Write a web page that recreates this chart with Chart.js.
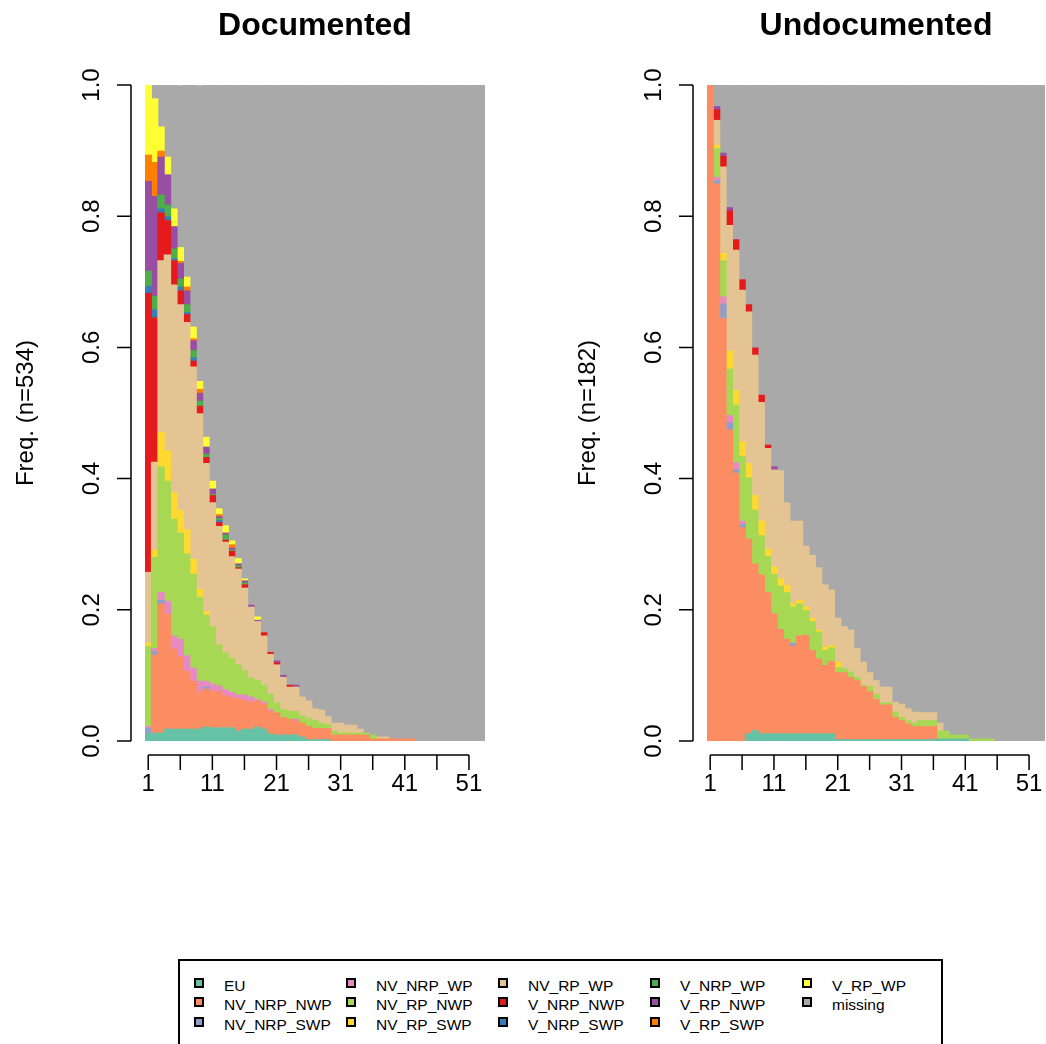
<!DOCTYPE html>
<html>
<head>
<meta charset="utf-8">
<script src="https://cdn.jsdelivr.net/npm/chart.js@4.4.1/dist/chart.umd.min.js"></script>
<style>
  html, body { margin: 0; padding: 0; background: #fff; overflow: hidden; }
  body { width: 1046px; height: 1044px; position: relative; font-family: "Liberation Sans", Arial, sans-serif; }
  canvas { position: absolute; top: 0; }
  #doc-chart { left: 0; }
  #und-chart { left: 523px; }
  #legend {
    position: absolute; left: 178px; top: 959px; width: 765px; height: 120px;
    border: 2px solid #000; box-sizing: border-box; padding: 15px 0 0 14px;
    display: grid; grid-template-columns: repeat(5, 152px); grid-template-rows: repeat(3, 19.5px);
    grid-auto-flow: column;
  }
  .item { display: flex; align-items: center; font-size: 15.5px; color: #000; white-space: nowrap; }
  .swatch { width: 10px; height: 10px; border: 2px solid #000; box-sizing: border-box; margin-right: 20px;
    position: relative; top: -3px; }
</style>
</head>
<body>
<canvas id="doc-chart" width="523" height="850"></canvas>
<canvas id="und-chart" width="523" height="850"></canvas>
<div id="legend"></div>
<script>
const states = ['EU', 'NV_NRP_NWP', 'NV_NRP_SWP', 'NV_NRP_WP', 'NV_RP_NWP', 'NV_RP_SWP', 'NV_RP_WP',
  'V_NRP_NWP', 'V_NRP_SWP', 'V_NRP_WP', 'V_RP_NWP', 'V_RP_SWP', 'V_RP_WP', 'missing'];
const stateColors = ['#66C2A5', '#FC8D62', '#8DA0CB', '#E78AC3', '#A6D854', '#FFD92F', '#E5C494',
  '#E41A1C', '#377EB8', '#4DAF4A', '#984EA3', '#FF7F00', '#FFFF33', '#A9A9A9'];

const positions = [1,2,3,4,5,6,7,8,9,10,11,12,13,14,15,16,17,18,19,20,21,22,23,24,25,26,27,28,29,30,
  31,32,33,34,35,36,37,38,39,40,41,42,43,44,45,46,47,48,49,50,51,52,53];
const xTickPositions = [1, 6, 11, 16, 21, 26, 31, 36, 41, 46, 51];
const xTickLabels = [1, 11, 21, 31, 41, 51];
const yTicks = [0, 0.2, 0.4, 0.6, 0.8, 1];
const yTickLabels = ['0.0', '0.2', '0.4', '0.6', '0.8', '1.0'];

// Documented (n=534): share of each state at each position
const doc_EU = [0.011,0.012,0.012,0.018,0.018,0.018,0.018,0.018,0.018,0.021,
  0.020,0.020,0.020,0.020,0.015,0.018,0.018,0.021,0.018,0.011,
  0.009,0.009,0.009,0.009,0.006,0.002,0.002,0.002,0.002,0,
  0,0,0,0,0,0,0,0,0,0, 0,0,0,0,0,0,0,0,0,0, 0,0,0];
const doc_NV_NRP_NWP = [0,0.119,0.197,0.175,0.122,0.110,0.088,0.073,0.056,0.058,
  0.056,0.055,0.049,0.046,0.049,0.044,0.041,0.040,0.038,0.034,
  0.034,0.027,0.024,0.021,0.021,0.020,0.017,0.017,0.017,0.009,
  0.009,0.009,0.009,0.009,0.009,0.003,0.003,0.003,0.003,0.003,
  0.003,0.003,0,0,0,0,0,0,0,0, 0,0,0];
const doc_NV_NRP_SWP = [0.008,0.005,0.005,0,0,0,0,0,0,0.003,
  0,0,0,0,0,0,0,0,0,0, 0,0,0,0,0,0,0,0,0,0, 0,0,0,0,0,0,0,0,0,0, 0,0,0,0,0,0,0,0,0,0, 0,0,0];
const doc_NV_NRP_WP = [0.003,0.005,0.012,0.020,0.020,0.027,0.024,0.020,0.017,0.009,
  0.011,0.009,0.009,0.008,0.006,0.008,0.008,0.002,0.003,0.003,
  0,0,0,0.003,0,0,0,0,0,0,
  0,0,0,0,0,0,0,0,0,0, 0,0,0,0,0,0,0,0,0,0, 0,0,0];
const doc_NV_RP_NWP = [0.122,0.139,0.192,0.183,0.178,0.162,0.155,0.143,0.128,0.101,
  0.087,0.062,0.056,0.052,0.046,0.037,0.029,0.029,0.026,0.023,
  0.015,0.012,0.012,0.012,0.011,0.012,0.012,0.008,0.006,0.006,
  0.003,0.003,0.003,0.003,0.003,0.006,0,0,0,0,
  0,0,0,0,0,0,0,0,0,0, 0,0,0];
const doc_NV_RP_SWP = [0.005,0.011,0.052,0.046,0.040,0.034,0.037,0.023,0.012,0.005,
  0,0,0,0,0,0,0,0,0,0, 0,0,0,0,0,0,0,0,0,0, 0,0,0,0,0,0,0,0,0,0, 0,0,0,0,0,0,0,0,0,0, 0,0,0];
const doc_NV_RP_WP = [0.108,0.134,0.262,0.299,0.317,0.314,0.316,0.293,0.268,0.226,
  0.189,0.181,0.169,0.155,0.146,0.126,0.108,0.090,0.075,0.061,
  0.058,0.049,0.037,0.037,0.029,0.027,0.018,0.020,0.012,0.012,
  0.015,0.012,0.012,0.006,0,0,0.003,0.003,0,0,
  0,0,0,0,0,0,0,0,0,0, 0,0,0];
const doc_V_NRP_NWP = [0.425,0.220,0.073,0.052,0.037,0.021,0.012,0.009,0.011,0.009,
  0.011,0.006,0.003,0.008,0.002,0.005,0,0,0.005,0.003,
  0.003,0,0.003,0,0,0,0,0,0,0,
  0,0,0,0,0,0,0,0,0,0, 0,0,0,0,0,0,0,0,0,0, 0,0,0];
const doc_V_NRP_SWP = [0.011,0.012,0.006,0.006,0.003,0.006,0.003,0.005,0,0,
  0,0.003,0,0,0,0,0,0,0,0,
  0,0,0,0,0,0,0,0,0,0, 0,0,0,0,0,0,0,0,0,0, 0,0,0,0,0,0,0,0,0,0, 0,0,0];
const doc_V_NRP_WP = [0.023,0.021,0.021,0.018,0.015,0.012,0.012,0.011,0.008,0.005,
  0.002,0.003,0.008,0.002,0.003,0.003,0,0,0,0,
  0,0,0,0,0,0,0,0,0,0, 0,0,0,0,0,0,0,0,0,0, 0,0,0,0,0,0,0,0,0,0, 0,0,0];
const doc_V_RP_NWP = [0.137,0.152,0.058,0.046,0.034,0.024,0.021,0.015,0.012,0.011,
  0.008,0.003,0.003,0.003,0.003,0.003,0.003,0.002,0,0,
  0.003,0.003,0,0.003,0,0,0,0,0,0,
  0,0,0,0,0,0,0,0,0,0, 0,0,0,0,0,0,0,0,0,0, 0,0,0];
const doc_V_RP_SWP = [0.040,0.052,0.009,0,0,0.003,0.006,0.003,0.006,0,
  0,0.003,0,0.005,0,0,0,0,0,0,
  0,0,0,0,0,0,0,0,0,0, 0,0,0,0,0,0,0,0,0,0, 0,0,0,0,0,0,0,0,0,0, 0,0,0];
const doc_V_RP_WP = [0.107,0.097,0.037,0.027,0.027,0.021,0.015,0.018,0.012,0.015,
  0.012,0.009,0.011,0.006,0.008,0.003,0,0.005,0,0,
  0,0,0,0,0,0,0,0,0,0, 0,0,0,0,0,0,0,0,0,0, 0,0,0,0,0,0,0,0,0,0, 0,0,0];
const doc_missing = [0,0.021,0.064,0.110,0.189,0.247,0.293,0.369,0.451,0.537,
  0.604,0.646,0.672,0.695,0.723,0.753,0.793,0.811,0.835,0.865,
  0.878,0.900,0.915,0.915,0.933,0.939,0.951,0.953,0.963,0.973,
  0.973,0.976,0.976,0.982,0.988,0.991,0.994,0.994,0.997,0.997,
  0.997,0.997,1,1,1,1,1,1,1,1, 1,1,1];

// Undocumented (n=182)
const und_EU = [0,0,0,0,0,0,0.011,0.016,0.011,0.011,
  0.011,0.011,0.011,0.011,0.011,0.011,0.011,0.011,0.011,0.011,
  0.002,0.002,0.002,0.002,0.002,0.002,0.002,0.002,0.002,0.002,
  0.002,0.002,0.002,0.002,0.002,0.002,0.003,0.003,0.003,0.003,
  0.003,0,0,0,0,0,0,0,0,0, 0,0,0];
const und_NV_NRP_NWP = [1,0.849,0.644,0.474,0.408,0.325,0.297,0.254,0.242,0.215,
  0.183,0.159,0.144,0.133,0.149,0.150,0.127,0.114,0.104,0.110,
  0.102,0.102,0.095,0.090,0.081,0.073,0.061,0.053,0.053,0.034,
  0.029,0.024,0.020,0.020,0.020,0.020,0,0,0,0,
  0,0,0,0,0,0,0,0,0,0, 0,0,0];
const und_NV_NRP_SWP = [0,0.005,0.022,0.011,0.005,0.005,0,0,0,0,
  0,0,0,0.005,0,0,0,0,0,0,
  0,0,0,0,0,0,0,0,0,0, 0,0,0,0,0,0,0,0,0,0, 0,0,0,0,0,0,0,0,0,0, 0,0,0];
const und_NV_NRP_WP = [0,0.005,0.011,0.011,0.011,0.005,0,0,0,0,
  0,0,0,0,0,0,0,0,0,0, 0,0,0,0,0,0,0,0,0,0, 0,0,0,0,0,0,0,0,0,0, 0,0,0,0,0,0,0,0,0,0, 0,0,0];
const und_NV_RP_NWP = [0,0.044,0.055,0.071,0.088,0.099,0.093,0.082,0.060,0.055,
  0.060,0.066,0.071,0.055,0.049,0.038,0.044,0.041,0.023,0.021,
  0.008,0.006,0.008,0.005,0.002,0.008,0.008,0.003,0.003,0.008,
  0.005,0.005,0.005,0.009,0.009,0.009,0.012,0.012,0.006,0.006,
  0.006,0.003,0.003,0.003,0.003,0,0,0,0,0, 0,0,0];
const und_NV_RP_SWP = [0,0.005,0.011,0.027,0.022,0.022,0.022,0.022,0.022,0.011,
  0.011,0.011,0.011,0.005,0.005,0.005,0.005,0.003,0.005,0.003,
  0.008,0,0,0,0,0,0,0,0,0,
  0,0,0,0,0,0,0,0,0,0, 0,0,0,0,0,0,0,0,0,0, 0,0,0];
const und_NV_RP_WP = [0,0.038,0.132,0.192,0.214,0.231,0.231,0.214,0.181,0.154,
  0.148,0.165,0.126,0.126,0.121,0.093,0.096,0.095,0.095,0.085,
  0.067,0.064,0.064,0.044,0.035,0.021,0.021,0.024,0.024,0.015,
  0.020,0.018,0.017,0.012,0.012,0.012,0.012,0,0,0,
  0,0,0,0,0,0,0,0,0,0, 0,0,0];
const und_V_NRP_NWP = [0,0.016,0.016,0.022,0.016,0.016,0.011,0.011,0.011,0.005,
  0,0,0,0,0,0,0,0,0,0, 0,0,0,0,0,0,0,0,0,0, 0,0,0,0,0,0,0,0,0,0, 0,0,0,0,0,0,0,0,0,0, 0,0,0];
const und_V_NRP_SWP = [0,0,0,0,0,0,0,0,0,0, 0,0,0,0,0,0,0,0,0,0, 0,0,0,0,0,0,0,0,0,0,
  0,0,0,0,0,0,0,0,0,0, 0,0,0,0,0,0,0,0,0,0, 0,0,0];
const und_V_NRP_WP = [0,0,0,0,0,0,0,0,0,0, 0,0,0,0,0,0,0,0,0,0, 0,0,0,0,0,0,0,0,0,0,
  0,0,0,0,0,0,0,0,0,0, 0,0,0,0,0,0,0,0,0,0, 0,0,0];
const und_V_RP_NWP = [0,0.005,0.005,0.005,0,0,0,0,0,0,
  0.005,0,0,0,0,0,0,0,0,0,
  0,0,0,0,0,0,0,0,0,0, 0,0,0,0,0,0,0,0,0,0, 0,0,0,0,0,0,0,0,0,0, 0,0,0];
const und_V_RP_SWP = [0,0,0,0,0,0,0,0,0,0, 0,0,0,0,0,0,0,0,0,0, 0,0,0,0,0,0,0,0,0,0,
  0,0,0,0,0,0,0,0,0,0, 0,0,0,0,0,0,0,0,0,0, 0,0,0];
const und_V_RP_WP = [0,0,0,0,0,0,0,0,0,0, 0,0,0,0,0,0,0,0,0,0, 0,0,0,0,0,0,0,0,0,0,
  0,0,0,0,0,0,0,0,0,0, 0,0,0,0,0,0,0,0,0,0, 0,0,0];
const und_missing = [0,0.033,0.104,0.187,0.236,0.297,0.335,0.401,0.473,0.549,
  0.582,0.588,0.637,0.665,0.665,0.703,0.717,0.736,0.762,0.770,
  0.813,0.826,0.831,0.859,0.880,0.896,0.908,0.918,0.918,0.941,
  0.944,0.951,0.956,0.957,0.957,0.957,0.973,0.985,0.991,0.991,
  0.991,0.997,0.997,0.997,0.997,1,1,1,1,1, 1,1,1];

const docSeries = [doc_EU, doc_NV_NRP_NWP, doc_NV_NRP_SWP, doc_NV_NRP_WP, doc_NV_RP_NWP, doc_NV_RP_SWP,
  doc_NV_RP_WP, doc_V_NRP_NWP, doc_V_NRP_SWP, doc_V_NRP_WP, doc_V_RP_NWP, doc_V_RP_SWP, doc_V_RP_WP, doc_missing];
const undSeries = [und_EU, und_NV_NRP_NWP, und_NV_NRP_SWP, und_NV_NRP_WP, und_NV_RP_NWP, und_NV_RP_SWP,
  und_NV_RP_WP, und_V_NRP_NWP, und_V_NRP_SWP, und_V_NRP_WP, und_V_RP_NWP, und_V_RP_SWP, und_V_RP_WP, und_missing];

const FONT = '"Liberation Sans", Arial, sans-serif';

// R-like axes, title and y label drawn around the plot area
const rAxes = {
  id: 'rAxes',
  afterDraw(chart, args, opts) {
    const { ctx, chartArea: area, scales: { x, y } } = chart;
    ctx.save();
    ctx.strokeStyle = '#000';
    ctx.fillStyle = '#000';
    ctx.lineWidth = 1.5;

    // x axis
    const axY = area.bottom + 14;
    const px = p => x.getPixelForValue(p - 1);
    ctx.beginPath();
    ctx.moveTo(px(xTickPositions[0]), axY);
    ctx.lineTo(px(xTickPositions[xTickPositions.length - 1]), axY);
    xTickPositions.forEach(p => {
      ctx.moveTo(px(p), axY);
      ctx.lineTo(px(p), axY + 15);
    });
    ctx.stroke();
    ctx.font = '24px ' + FONT;
    ctx.textAlign = 'center';
    ctx.textBaseline = 'middle';
    xTickLabels.forEach(p => ctx.fillText(String(p), px(p), axY + 29));

    // y axis
    const axX = area.left - 14;
    ctx.beginPath();
    ctx.moveTo(axX, y.getPixelForValue(yTicks[0]));
    ctx.lineTo(axX, y.getPixelForValue(yTicks[yTicks.length - 1]));
    yTicks.forEach(v => {
      ctx.moveTo(axX, y.getPixelForValue(v));
      ctx.lineTo(axX - 14, y.getPixelForValue(v));
    });
    ctx.stroke();
    yTicks.forEach((v, i) => {
      ctx.save();
      ctx.translate(area.left - 53, y.getPixelForValue(v));
      ctx.rotate(-Math.PI / 2);
      ctx.fillText(yTickLabels[i], 0, 0);
      ctx.restore();
    });

    // y label
    ctx.save();
    ctx.translate(area.left - 119, (area.top + area.bottom) / 2);
    ctx.rotate(-Math.PI / 2);
    ctx.fillText(opts.ylab, 0, 0);
    ctx.restore();

    // title
    ctx.font = 'bold 32px ' + FONT;
    ctx.textBaseline = 'alphabetic';
    ctx.fillText(opts.title, (area.left + area.right) / 2, 35);
    ctx.restore();
  }
};

function makeChart(canvasId, series, title, ylab, padding) {
  const datasets = states.map((s, i) => ({
    label: s,
    data: series[i].map(v => (v > 0 ? v : null)),
    backgroundColor: stateColors[i],
    borderWidth: 0,
    barPercentage: 1,
    categoryPercentage: 1,
    inflateAmount: 0.5
  }));
  return new Chart(document.getElementById(canvasId), {
    type: 'bar',
    data: { labels: positions, datasets },
    options: {
      responsive: false,
      animation: false,
      devicePixelRatio: 1,
      layout: { padding },
      scales: {
        x: { stacked: true, display: false },
        y: { stacked: true, display: false, min: 0, max: 1 }
      },
      plugins: {
        legend: { display: false },
        tooltip: { enabled: false },
        rAxes: { title, ylab }
      }
    },
    plugins: [rAxes]
  });
}

makeChart('doc-chart', docSeries, 'Documented', 'Freq. (n=534)', { left: 145, right: 38, top: 85, bottom: 109 });
makeChart('und-chart', undSeries, 'Undocumented', 'Freq. (n=182)', { left: 184, right: 1, top: 85, bottom: 109 });

// legend, filled column by column as in the original
const legend = document.getElementById('legend');
states.forEach((s, i) => {
  const item = document.createElement('div');
  item.className = 'item';
  const sw = document.createElement('span');
  sw.className = 'swatch';
  sw.style.background = stateColors[i];
  const label = document.createElement('span');
  label.innerText = s;
  item.appendChild(sw);
  item.appendChild(label);
  legend.appendChild(item);
});
</script>
</body>
</html>
